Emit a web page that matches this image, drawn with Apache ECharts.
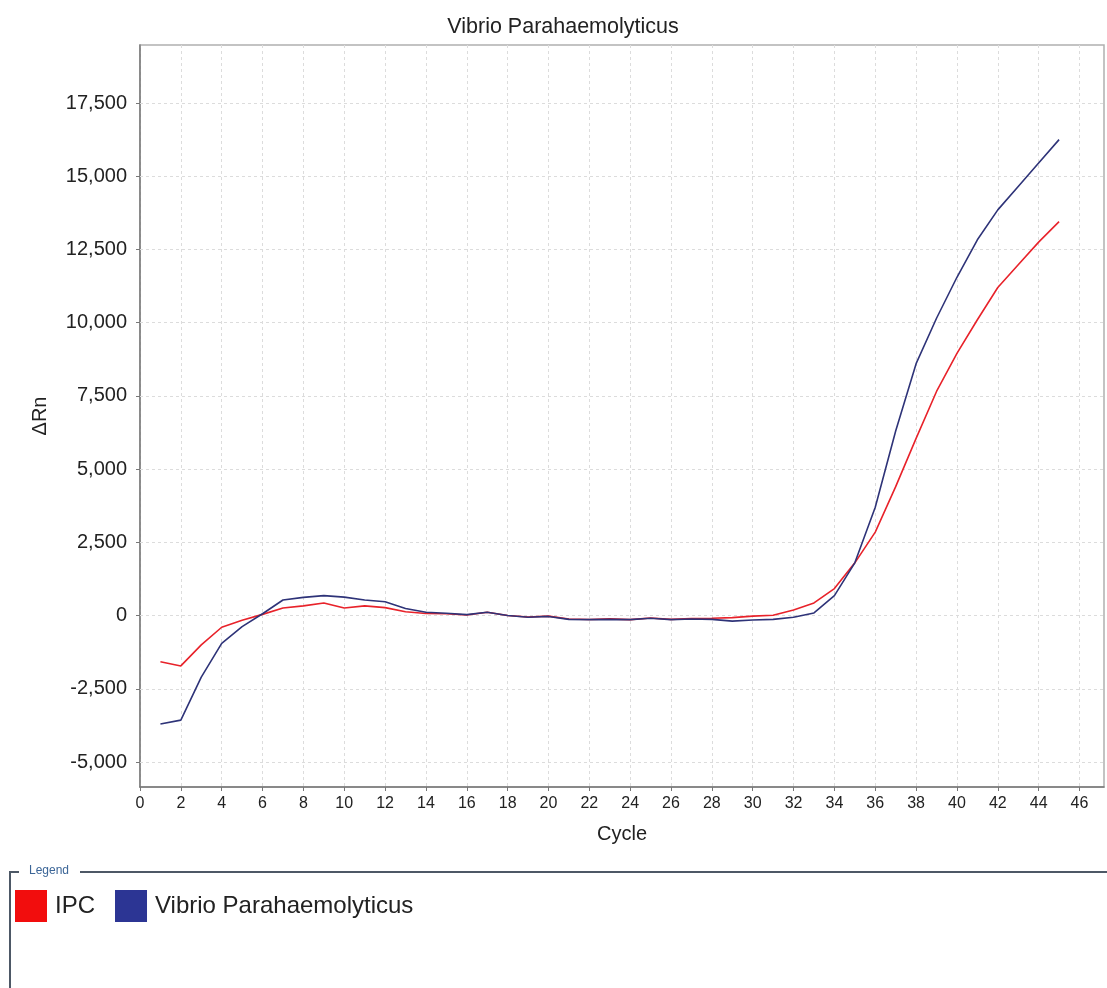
<!DOCTYPE html>
<html>
<head>
<meta charset="utf-8">
<title>Vibrio Parahaemolyticus</title>
<script src="https://cdn.jsdelivr.net/npm/echarts@6/dist/echarts.min.js"></script>
<style>
  html, body { margin: 0; padding: 0; background: #fff; }
  #chart { width: 1107px; height: 988px; }
</style>
</head>
<body>
<div id="chart"></div>
<script>
// amplification data, one value per cycle
const cycles = [1, 2, 3, 4, 5, 6, 7, 8, 9, 10, 11, 12, 13, 14, 15, 16, 17, 18, 19, 20, 21, 22, 23,
  24, 25, 26, 27, 28, 29, 30, 31, 32, 33, 34, 35, 36, 37, 38, 39, 40, 41, 42, 43, 44, 45];
const ipc = [-1580, -1720, -1000, -400, -160, 40, 260, 330, 430, 260, 330, 270, 130, 70, 60, 20, 110, 0,
  -50, -20, -120, -135, -115, -140, -85, -130, -100, -90, -70, -20, 10, 190, 430, 920, 1800, 2850, 4400,
  6050, 7650, 8950, 10100, 11200, 11980, 12750, 13450];
const vibrio = [-3700, -3570, -2100, -950, -380, 60, 530, 620, 680, 630, 530, 470, 240, 110, 80, 30, 110, 0,
  -60, -30, -130, -140, -130, -140, -90, -140, -120, -130, -190, -150, -130, -60, 90, 680, 1800, 3700, 6300,
  8600, 10150, 11550, 12830, 13850, 14650, 15450, 16250];

const xTicks = [0, 2, 4, 6, 8, 10, 12, 14, 16, 18, 20, 22, 24, 26, 28, 30, 32, 34, 36, 38, 40, 42, 44, 46];
const yTicks = [-5000, -2500, 0, 2500, 5000, 7500, 10000, 12500, 15000, 17500];

const fontFamily = 'Liberation Sans, Arial, sans-serif';
const gridColor = '#dcdcdc';

function toPairs(values) {
  return cycles.map((c, i) => [c, values[i]]);
}

const chart = echarts.init(document.getElementById('chart'));

const option = {
  backgroundColor: '#ffffff',
  animation: false,
  title: {
    text: 'Vibrio Parahaemolyticus',
    left: 558,
    top: 11,
    textAlign: 'center',
    textStyle: { fontFamily: fontFamily, fontSize: 21.5, fontWeight: 'normal', color: '#222' }
  },
  grid: {
    left: 140,
    right: 3,
    top: 45,
    bottom: 201,
    show: true,
    borderColor: '#b0b0b0',
    borderWidth: 1.5
  },
  legend: {
    left: 10,
    top: 885,
    itemWidth: 32,
    itemHeight: 32,
    itemGap: 20,
    icon: 'rect',
    data: ['IPC', 'Vibrio Parahaemolyticus'],
    textStyle: { fontFamily: fontFamily, fontSize: 24, color: '#222', padding: [0, 0, 0, 3] }
  },
  xAxis: {
    type: 'value',
    min: 0,
    max: 47.2,
    interval: 2,
    name: 'Cycle',
    nameLocation: 'middle',
    nameGap: 37,
    nameTextStyle: { fontFamily: fontFamily, fontSize: 20, color: '#222' },
    axisLine: { onZero: false, lineStyle: { color: '#777', width: 1.5 } },
    axisTick: { show: true, length: 4, lineStyle: { color: '#777' }, customValues: xTicks },
    axisLabel: { fontFamily: fontFamily, fontSize: 16, color: '#222', margin: 9, customValues: xTicks },
    splitLine: { show: true, lineStyle: { color: gridColor, type: [3, 3] } }
  },
  yAxis: {
    type: 'value',
    min: -5854,
    max: 19480,
    name: 'ΔRn',
    nameLocation: 'middle',
    nameRotate: 90,
    nameGap: 90,
    nameTextStyle: { fontFamily: fontFamily, fontSize: 20, color: '#222' },
    axisLine: { show: true, onZero: false, lineStyle: { color: '#777', width: 1.5 } },
    axisTick: { show: true, length: 4, lineStyle: { color: '#777' }, customValues: yTicks },
    axisLabel: {
      fontFamily: fontFamily, fontSize: 20, color: '#222', margin: 13,
      customValues: yTicks,
      formatter: v => v.toLocaleString('en-US')
    },
    splitLine: { show: false }
  },
  graphic: [
    { type: 'line', shape: { x1: 10, y1: 872, x2: 19, y2: 872 }, style: { stroke: '#4d5866', lineWidth: 2 } },
    { type: 'line', shape: { x1: 80, y1: 872, x2: 1107, y2: 872 }, style: { stroke: '#4d5866', lineWidth: 2 } },
    { type: 'line', shape: { x1: 10, y1: 871, x2: 10, y2: 988 }, style: { stroke: '#4d5866', lineWidth: 2 } },
    {
      type: 'text', left: 29, top: 865,
      style: { text: 'Legend', fontFamily: fontFamily, fontSize: 12, fill: '#3b6597' }
    }
  ],
  series: [
    {
      // horizontal grid lines at the y tick values, kept under the curves
      name: 'grid',
      type: 'line',
      data: [],
      silent: true,
      z: 0,
      markLine: {
        silent: true,
        symbol: 'none',
        label: { show: false },
        lineStyle: { color: gridColor, type: [3, 3], width: 1 },
        data: yTicks.map(v => ({ yAxis: v }))
      }
    },
    {
      name: 'IPC',
      type: 'line',
      z: 5,
      data: toPairs(ipc),
      showSymbol: false,
      itemStyle: { color: '#f20d0d' },
      lineStyle: { color: '#e8222a', width: 1.6 }
    },
    {
      name: 'Vibrio Parahaemolyticus',
      type: 'line',
      z: 6,
      data: toPairs(vibrio),
      showSymbol: false,
      itemStyle: { color: '#2c3594' },
      lineStyle: { color: '#2e3378', width: 1.6 }
    }
  ]
};

chart.setOption(option);
</script>
</body>
</html>
